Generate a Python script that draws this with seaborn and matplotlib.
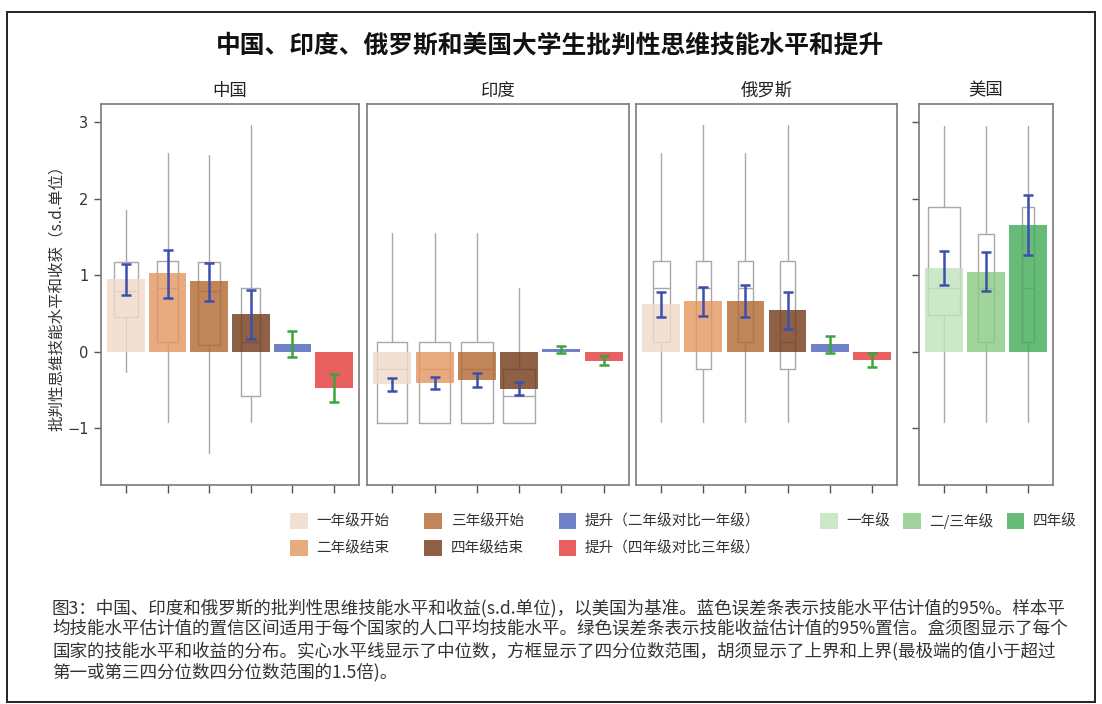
import matplotlib
matplotlib.use("Agg")
import matplotlib.pyplot as plt
from matplotlib.patches import Patch, Rectangle
import numpy as np
import pandas as pd
import seaborn as sns

# ---------------- data ----------------
groups = ["一年级开始", "二年级结束", "三年级开始", "四年级结束",
          "提升（二年级对比一年级）", "提升（四年级对比三年级）"]
us_groups = ["一年级", "二/三年级", "四年级"]
panel_titles = ["中国", "印度", "俄罗斯", "美国"]

# mean level / gain (bars)
china_mean = [0.95, 1.03, 0.92, 0.49, 0.10, -0.47]
india_mean = [-0.42, -0.41, -0.37, -0.49, 0.04, -0.12]
russia_mean = [0.62, 0.67, 0.67, 0.55, 0.10, -0.10]
us_mean = [1.09, 1.04, 1.66]

# 95% confidence intervals (error bars)
china_ci_lo = [0.75, 0.71, 0.67, 0.17, -0.07, -0.66]
china_ci_hi = [1.15, 1.33, 1.16, 0.81, 0.27, -0.29]
india_ci_lo = [-0.51, -0.48, -0.46, -0.57, -0.01, -0.17]
india_ci_hi = [-0.34, -0.33, -0.27, -0.40, 0.08, -0.05]
russia_ci_lo = [0.46, 0.47, 0.45, 0.30, -0.01, -0.20]
russia_ci_hi = [0.78, 0.85, 0.88, 0.78, 0.21, -0.01]
us_ci_lo = [0.88, 0.80, 1.27]
us_ci_hi = [1.32, 1.30, 2.05]

# distribution summaries (box plots)
china_q1 = [0.45, 0.13, 0.09, -0.58]
china_med = [0.80, 0.83, 0.80, 0.13]
china_q3 = [1.17, 1.19, 1.17, 0.83]
china_wlo = [-0.26, -0.92, -1.32, -0.92]
china_whi = [1.86, 2.60, 2.57, 2.96]
china_boxw = [0.59, 0.52, 0.52, 0.45]

india_q1 = [-0.93, -0.93, -0.93, -0.93]
india_med = [-0.23, -0.23, -0.23, -0.58]
india_q3 = [0.135, 0.135, 0.135, -0.23]
india_wlo = [-0.93, -0.93, -0.93, -0.93]
india_whi = [1.55, 1.55, 1.55, 0.83]
india_boxw = [0.71, 0.75, 0.77, 0.74]

russia_q1 = [0.13, -0.23, 0.13, -0.23]
russia_med = [0.83, 0.83, 0.83, 0.13]
russia_q3 = [1.19, 1.19, 1.19, 1.19]
russia_wlo = [-0.92, -0.92, -0.92, -0.92]
russia_whi = [2.60, 2.96, 2.60, 2.96]
russia_boxw = [0.41, 0.36, 0.36, 0.35]

us_q1 = [0.48, 0.13, 0.13]
us_med = [0.83, 0.83, 0.83]
us_q3 = [1.89, 1.54, 1.89]
us_wlo = [-0.92, -0.92, -0.92]
us_whi = [2.95, 2.95, 2.95]
us_boxw = [0.75, 0.40, 0.29]

y_ticks = [-1, 0, 1, 2, 3]

title = "中国、印度、俄罗斯和美国大学生批判性思维技能水平和提升"
y_label = "批判性思维技能水平和收获（s.d.单位）"
caption = ("图3：中国、印度和俄罗斯的批判性思维技能水平和收益(s.d.单位)，以美国为基准。蓝色误差条表示技能水平估计值的95%。样本平\n"
           "均技能水平估计值的置信区间适用于每个国家的人口平均技能水平。绿色误差条表示技能收益估计值的95%置信。盒须图显示了每个\n"
           "国家的技能水平和收益的分布。实心水平线显示了中位数，方框显示了四分位数范围，胡须显示了上界和上界(最极端的值小于超过\n"
           "第一或第三四分位数四分位数范围的1.5倍)。")

# ---------------- style ----------------
level_colors = ["#f0dac9", "#e49763", "#b26b36", "#753d1c", "#4f67bc", "#e33d3c"]
us_colors = ["#c2e3bc", "#8bcb85", "#44ac5a"]
BAR_ALPHA = 0.82
BLUE_ERR = "#3b4fae"
GREEN_ERR = "#3aa53a"
BOX_GRAY = "#a8a8a8"
SPINE_GRAY = "#7a7a7a"

sns.set_style("white")
plt.rcParams["font.family"] = ["Noto Sans CJK SC", "DejaVu Sans"]

W, H = 1102, 704
fig = plt.figure(figsize=(W / 100, H / 100), dpi=100)

# outer frame
fig.patches.append(Rectangle((7 / W, 1 - 702 / H), (1095 - 7) / W, (702 - 12) / H,
                             transform=fig.transFigure, fill=False,
                             edgecolor="#222222", linewidth=1.4))


def px_axes(x0, x1, top=104, bottom=485):
    return fig.add_axes([x0 / W, 1 - bottom / H, (x1 - x0) / W, (bottom - top) / H])


def draw_panel(ax, labels, means, lo, hi, q1, med, q3, wlo, whi, boxw, colors, err_colors):
    n = len(labels)
    df = pd.DataFrame({"组别": labels, "值": means})
    sns.barplot(data=df, x="组别", y="值", hue="组别", order=labels, hue_order=labels,
                palette=colors, saturation=1, width=0.9, alpha=BAR_ALPHA,
                errorbar=None, legend=False, linewidth=0, zorder=3, ax=ax)
    stats = [dict(q1=a, med=m, q3=b, whislo=wl, whishi=wh)
             for a, m, b, wl, wh in zip(q1, med, q3, wlo, whi)]
    line = dict(color=BOX_GRAY, linewidth=1.0)
    ax.bxp(stats, positions=list(range(len(stats))), widths=boxw,
           showfliers=False, showcaps=False, manage_ticks=False,
           boxprops=line, whiskerprops=line, medianprops=line, zorder=2)
    for i in range(n):
        mid = (lo[i] + hi[i]) / 2
        ax.errorbar(i, mid, yerr=(hi[i] - lo[i]) / 2, fmt="none",
                    ecolor=err_colors[i], elinewidth=1.8, capsize=3.6, capthick=1.8, zorder=5)
    ax.set_xlabel("")
    ax.set_ylabel("")
    ax.set_xlim(-0.6, n - 1 + 0.6)
    ax.set_ylim(-1.74, 3.24)
    ax.set_xticks(range(n))
    ax.set_xticklabels([])
    ax.set_yticks(y_ticks)
    for s in ax.spines.values():
        s.set_color(SPINE_GRAY)
        s.set_linewidth(1.2)
    ax.tick_params(axis="x", bottom=True, direction="out", length=6, width=1, color="#555555")
    ax.set_title(ax.get_label(), fontsize=12.5, pad=6, color="#222222")


six_err = [BLUE_ERR] * 4 + [GREEN_ERR] * 2
panels = [
    (101, 359, groups, china_mean, china_ci_lo, china_ci_hi, china_q1, china_med, china_q3, china_wlo, china_whi, china_boxw, level_colors, six_err),
    (367, 629, groups, india_mean, india_ci_lo, india_ci_hi, india_q1, india_med, india_q3, india_wlo, india_whi, india_boxw, level_colors, six_err),
    (636, 897, groups, russia_mean, russia_ci_lo, russia_ci_hi, russia_q1, russia_med, russia_q3, russia_wlo, russia_whi, russia_boxw, level_colors, six_err),
    (919, 1053, us_groups, us_mean, us_ci_lo, us_ci_hi, us_q1, us_med, us_q3, us_wlo, us_whi, us_boxw, us_colors, [BLUE_ERR] * 3),
]

axes = []
for name, p in zip(panel_titles, panels):
    x0, x1 = p[0], p[1]
    ax = px_axes(x0, x1)
    ax.set_label(name)
    draw_panel(ax, *p[2:])
    axes.append(ax)

# y axis: labelled on the first panel, ticks only on the US panel
axes[0].tick_params(axis="y", left=True, labelleft=True, direction="out", length=5,
                    width=1, color="#555555", labelsize=10.5, labelcolor="#333333", pad=4)
axes[0].set_yticklabels([str(t) if t >= 0 else "\u2212" + str(-t) for t in y_ticks],
                        family=["DejaVu Sans"])
for ax in axes[1:3]:
    ax.tick_params(axis="y", left=False, labelleft=False)
axes[3].tick_params(axis="y", left=True, labelleft=False, direction="out", length=5,
                    width=1, color="#555555")
fig.text(56 / W, 1 - 294 / H, y_label, rotation=90, ha="center", va="center",
         fontsize=11.2, color="#333333")

# title
fig.text(550 / W, 1 - 45 / H, title, ha="center", va="center", fontsize=17.8,
         fontweight="bold", color="#111111")

# legends
lev_handles = [Patch(facecolor=c, alpha=BAR_ALPHA, edgecolor="none") for c in level_colors]
fig.legend(lev_handles, groups, ncol=3, loc="upper left",
           bbox_to_anchor=(290 / W, 1 - 513 / H), frameon=False, fontsize=10.5,
           handlelength=1.2, handleheight=1.3, handletextpad=0.6, columnspacing=2.4,
           labelspacing=0.75, borderpad=0, borderaxespad=0, labelcolor="#333333")
us_handles = [Patch(facecolor=c, alpha=BAR_ALPHA, edgecolor="none") for c in us_colors]
fig.legend(us_handles, us_groups, ncol=3, loc="upper left",
           bbox_to_anchor=(820 / W, 1 - 513 / H), frameon=False, fontsize=10.5,
           handlelength=1.2, handleheight=1.3, handletextpad=0.6, columnspacing=0.9,
           borderpad=0, borderaxespad=0, labelcolor="#333333")

# caption
fig.text(52 / W, 1 - 599 / H, caption, ha="left", va="top", fontsize=12.65,
         linespacing=1.2, color="#333333")

fig.savefig("out.png", dpi=100)
